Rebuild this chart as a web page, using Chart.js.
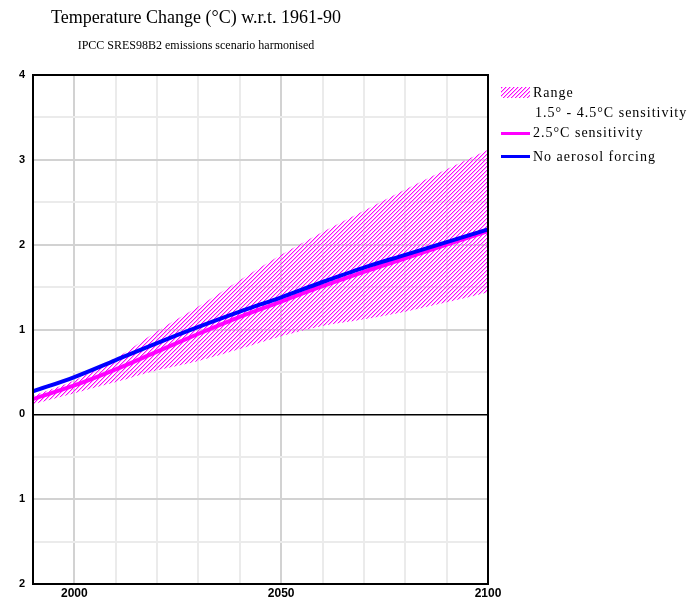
<!DOCTYPE html>
<html>
<head>
<meta charset="utf-8">
<script src="https://cdn.jsdelivr.net/npm/chart.js@4"></script>
<style>
  body { margin: 0; background: #fff; }
  #chart { display: block; }
</style>
</head>
<body>
<canvas id="chart" width="696" height="600"></canvas>
<script>
// valores (anos a cada 10)
const years = [1990, 2000, 2010, 2020, 2030, 2040, 2050, 2060, 2070, 2080, 2090, 2100];
const rangeHigh = [0.22, 0.40, 0.66, 0.98, 1.27, 1.58, 1.88, 2.15, 2.40, 2.65, 2.89, 3.12];
const rangeLow = [0.12, 0.25, 0.38, 0.52, 0.63, 0.77, 0.92, 1.04, 1.12, 1.21, 1.32, 1.44];
const sens25 = [0.18, 0.34, 0.53, 0.74, 0.95, 1.15, 1.33, 1.51, 1.68, 1.84, 2.00, 2.16];
const noAerosol = [0.27, 0.44, 0.64, 0.84, 1.03, 1.21, 1.38, 1.56, 1.73, 1.88, 2.03, 2.18];
const xLabelYears = [2000, 2050, 2100];

const MAGENTA = '#ff00ff';
const BLUE = '#0000ff';

function pts(vals) {
    return years.map((y, i) => ({ x: y, y: vals[i] }));
}

// hachura diagonal "/"
function makeHatch() {
    const c = document.createElement('canvas');
    c.width = 4; c.height = 4;
    const g = c.getContext('2d');
    for (let x = 0; x < 4; x++) {
        for (let y = 0; y < 4; y++) {
            const k = (x + y) % 4;
            if (k === 0) { g.fillStyle = MAGENTA; g.fillRect(x, y, 1, 1); }
            if (k === 1) { g.fillStyle = '#ffa8ff'; g.fillRect(x, y, 1, 1); }
        }
    }
    return g.createPattern(c, 'repeat');
}
const hatch = makeHatch();

const extras = {
    id: 'extras',
    afterDraw(chart) {
        const ctx = chart.ctx;
        const a = chart.chartArea;
        ctx.save();
        // moldura
        ctx.strokeStyle = '#000';
        ctx.lineWidth = 2;
        ctx.strokeRect(a.left, a.top, a.right - a.left, a.bottom - a.top);

        // titulos
        ctx.fillStyle = '#000';
        ctx.textAlign = 'center';
        ctx.textBaseline = 'middle';
        ctx.font = '18px "Liberation Serif"';
        ctx.fillText('Temperature Change (°C) w.r.t. 1961-90', 196, 18);
        ctx.font = '12px "Liberation Serif"';
        ctx.fillText('IPCC SRES98B2 emissions scenario harmonised', 196, 46);

        // legenda
        const lx = 501, tx = 533;
        ctx.fillStyle = hatch;
        ctx.fillRect(lx, 87, 29, 11);
        ctx.fillStyle = '#000';
        ctx.textAlign = 'left';
        ctx.font = '14px "Liberation Serif"';
        ctx.letterSpacing = '1px';
        ctx.fillText('Range', tx, 93);
        ctx.fillText('1.5° - 4.5°C sensitivity', tx + 2, 113);
        ctx.fillStyle = MAGENTA;
        ctx.fillRect(lx, 132, 29, 3);
        ctx.fillStyle = '#000';
        ctx.fillText('2.5°C sensitivity', tx, 133);
        ctx.fillStyle = BLUE;
        ctx.fillRect(lx, 155, 29, 3);
        ctx.fillStyle = '#000';
        ctx.fillText('No aerosol forcing', tx, 157);
        ctx.restore();
    }
};

new Chart(document.getElementById('chart'), {
    type: 'line',
    data: {
        datasets: [
            {
                label: 'No aerosol forcing',
                data: pts(noAerosol),
                borderColor: BLUE,
                borderWidth: 4,
                pointRadius: 0,
                fill: false,
                order: 0
            },
            {
                label: '2.5°C sensitivity',
                data: pts(sens25),
                borderColor: MAGENTA,
                borderWidth: 4,
                pointRadius: 0,
                fill: false,
                order: 1
            },
            {
                label: 'Range high',
                data: pts(rangeHigh),
                borderWidth: 0,
                borderColor: 'rgba(0,0,0,0)',
                backgroundColor: hatch,
                pointRadius: 0,
                fill: '+1',
                order: 2
            },
            {
                label: 'Range low',
                data: pts(rangeLow),
                borderWidth: 0,
                borderColor: 'rgba(0,0,0,0)',
                pointRadius: 0,
                fill: false,
                order: 3
            }
        ]
    },
    options: {
        responsive: false,
        animation: false,
        cubicInterpolationMode: 'monotone',
        layout: { padding: { top: 75, right: 208, left: 0, bottom: 0 } },
        plugins: {
            legend: { display: false },
            title: { display: false },
            tooltip: { enabled: false }
        },
        scales: {
            x: {
                type: 'linear',
                min: 1990,
                max: 2100,
                border: { display: false },
                afterFit(s) { s.height = 16; },
                ticks: {
                    stepSize: 10,
                    autoSkip: false,
                    maxRotation: 0,
                    padding: 2,
                    color: '#000',
                    font: { family: '"Liberation Sans"', size: 12, weight: 'bold' },
                    callback: v => xLabelYears.includes(v) ? String(v) : ''
                },
                grid: {
                    drawTicks: false,
                    lineWidth: 2,
                    color: c => (c.tick && c.tick.value % 50 === 0) ? '#d2d2d2' : '#ebebeb'
                }
            },
            y: {
                min: -2,
                max: 4,
                border: { display: false },
                afterFit(s) { s.width = 33; },
                ticks: {
                    stepSize: 0.5,
                    padding: 8,
                    color: '#000',
                    font: { family: '"Liberation Sans"', size: 11, weight: 'bold' },
                    callback: v => Number.isInteger(v) ? String(Math.abs(v)) : ''
                },
                grid: {
                    drawTicks: false,
                    lineWidth: c => (c.tick && c.tick.value === 0) ? 1.5 : 2,
                    color: c => {
                        if (!c.tick) return '#ebebeb';
                        if (c.tick.value === 0) return '#000';
                        return Number.isInteger(c.tick.value) ? '#d2d2d2' : '#ebebeb';
                    }
                }
            }
        }
    },
    plugins: [extras]
});
</script>
</body>
</html>
